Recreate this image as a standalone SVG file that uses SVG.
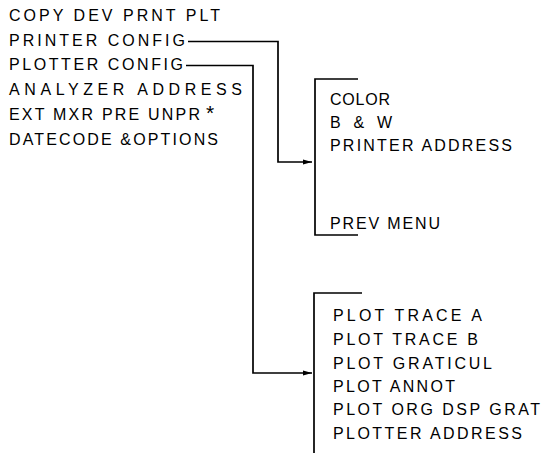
<svg xmlns="http://www.w3.org/2000/svg" width="547" height="453" viewBox="0 0 547 453">
<style>
text{font-family:"Liberation Sans",Arial,sans-serif;font-size:16px;fill:#000}
.ln{fill:none;stroke:#000;stroke-width:1.7}
</style>
<defs>
<marker id="ah" markerWidth="10" markerHeight="8" refX="9" refY="4" orient="auto" markerUnits="userSpaceOnUse">
<path d="M0,1.5 L9,4 L0,6.5 Z" fill="#000"/>
</marker>
</defs>
<rect width="547" height="453" fill="#fff"/>
<g id="main-menu">
<text x="9" y="21" textLength="211" lengthAdjust="spacing">COPY DEV PRNT PLT</text>
<text x="9" y="45.5" textLength="176" lengthAdjust="spacing">PRINTER CONFIG</text>
<text x="9" y="70" textLength="174" lengthAdjust="spacing">PLOTTER CONFIG</text>
<text x="9" y="95" textLength="233" lengthAdjust="spacing">ANALYZER ADDRESS</text>
<text x="9" y="120" textLength="191" lengthAdjust="spacing">EXT MXR PRE UNPR</text>
<text x="206" y="120" style="font-size:21px">*</text>
<text x="9" y="145" textLength="209" lengthAdjust="spacing">DATECODE &amp;OPTIONS</text>
</g>
<g id="printer-menu">
<path class="ln" d="M358,79 H315 V235 H358"/>
<text x="330" y="105" textLength="60" lengthAdjust="spacing">COLOR</text>
<text x="330" y="128" textLength="62" lengthAdjust="spacing">B &amp; W</text>
<text x="330" y="151" textLength="182" lengthAdjust="spacing">PRINTER ADDRESS</text>
<text x="330" y="229" textLength="110" lengthAdjust="spacing">PREV MENU</text>
</g>
<g id="plotter-menu">
<path class="ln" d="M362,293 H314 V453"/>
<text x="333" y="321" textLength="149" lengthAdjust="spacing">PLOT TRACE A</text>
<text x="333" y="345" textLength="145" lengthAdjust="spacing">PLOT TRACE B</text>
<text x="333" y="369" textLength="159" lengthAdjust="spacing">PLOT GRATICUL</text>
<text x="333" y="392" textLength="122" lengthAdjust="spacing">PLOT ANNOT</text>
<text x="333" y="415" textLength="207" lengthAdjust="spacing">PLOT ORG DSP GRAT</text>
<text x="333" y="439" textLength="189" lengthAdjust="spacing">PLOTTER ADDRESS</text>
</g>
<g id="connectors">
<path class="ln" d="M188,41.5 H278 V162 H312" marker-end="url(#ah)"/>
<path class="ln" d="M186,65.5 H253 V373 H312" marker-end="url(#ah)"/>
</g>
</svg>
